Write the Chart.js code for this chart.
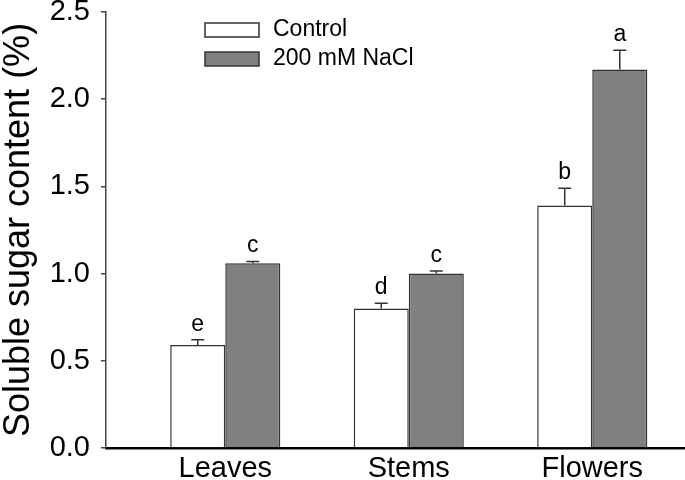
<!DOCTYPE html>
<html><head><meta charset="utf-8">
<script src="https://cdn.jsdelivr.net/npm/chart.js@4.4.0/dist/chart.umd.min.js"></script>
<style>html,body{margin:0;padding:0;background:#fff}#wrap{width:685px;height:480px}</style>
</head><body><div id="wrap"><canvas id="c" width="685" height="480"></canvas></div>
<script>
const categories = ['Leaves', 'Stems', 'Flowers'];
const seriesNames = ['Control', '200 mM NaCl'];
const controlMeans = [0.59, 0.80, 1.39];
const controlErrors = [0.03, 0.03, 0.10];
const naclMeans = [1.06, 1.00, 2.17];
const naclErrors = [0.01, 0.015, 0.11];
const controlLetters = ['e', 'd', 'b'];
const naclLetters = ['c', 'c', 'a'];
const yTicks = [0, 0.5, 1.0, 1.5, 2.0, 2.5];
const yTitle = 'Soluble sugar content (%)';

const FONT = "'Liberation Sans', Arial, sans-serif";
const toPoints = arr => arr.map((v, i) => ({ x: i + 1, y: v }));

const errorPlugin = {
  id: 'errorLetters',
  afterDatasetsDraw(chart) {
    const ctx = chart.ctx;
    const yScale = chart.scales.y;
    chart.data.datasets.forEach((ds, di) => {
      const meta = chart.getDatasetMeta(di);
      meta.data.forEach((el, i) => {
        const mean = ds.data[i].y;
        const err = ds.errors[i];
        const yTop = yScale.getPixelForValue(mean + err);
        ctx.save();
        ctx.strokeStyle = '#333';
        ctx.lineWidth = 1.5;
        ctx.beginPath();
        ctx.moveTo(el.x, el.y);
        ctx.lineTo(el.x, yTop);
        ctx.moveTo(el.x - 6.5, yTop);
        ctx.lineTo(el.x + 6.5, yTop);
        ctx.stroke();
        ctx.fillStyle = '#000';
        ctx.font = '23px ' + FONT;
        ctx.textAlign = 'center';
        ctx.textBaseline = 'alphabetic';
        ctx.fillText(ds.letters[i], el.x, yTop - 9);
        ctx.restore();
      });
    });
  },
  afterDraw(chart) {
    const ctx = chart.ctx;
    ctx.save();
    chart.data.datasets.forEach((ds, di) => {
      const y = 23 + di * 29;
      ctx.fillStyle = ds.backgroundColor;
      ctx.fillRect(205, y, 54, 14);
      ctx.strokeStyle = '#333';
      ctx.lineWidth = 1.5;
      ctx.strokeRect(205, y, 54, 14);
      ctx.fillStyle = '#000';
      ctx.font = '23px ' + FONT;
      ctx.textAlign = 'left';
      ctx.textBaseline = 'middle';
      ctx.fillText(ds.label, 273, y + 7);
    });
    ctx.restore();
  }
};

new Chart(document.getElementById('c'), {
  type: 'bar',
  data: {
    datasets: [
      { label: seriesNames[0], data: toPoints(controlMeans), errors: controlErrors, letters: controlLetters,
        backgroundColor: '#ffffff', borderColor: '#333', borderWidth: 1.5 },
      { label: seriesNames[1], data: toPoints(naclMeans), errors: naclErrors, letters: naclLetters,
        backgroundColor: '#808080', borderColor: '#333', borderWidth: 1.5 }
    ]
  },
  options: {
    responsive: false,
    animation: false,
    devicePixelRatio: 1,
    layout: { padding: { top: 12, right: 1, bottom: 0, left: 0 } },
    categoryPercentage: 0.6,
    barPercentage: 1.0,
    plugins: { legend: { display: false }, tooltip: { enabled: false } },
    scales: {
      x: {
        type: 'linear', min: 0.35, max: 3.5, offset: false,
        afterBuildTicks: s => { s.ticks = categories.map((c, i) => ({ value: i + 1 })); },
        afterFit: s => { s.height = 32; s.paddingLeft = 0; s.paddingRight = 0; },
        grid: { display: false },
        border: { display: true, color: '#000', width: 2.5 },
        ticks: { color: '#000', font: { family: FONT, size: 29 }, padding: -4,
          callback: v => categories[Math.round(v) - 1] }
      },
      y: {
        type: 'linear', min: 0, max: 2.5,
        afterBuildTicks: s => { s.ticks = yTicks.map(v => ({ value: v })); },
        afterFit: s => { s.width = 106; s.paddingTop = 0; s.paddingBottom = 0; },
        grid: { drawOnChartArea: false, drawTicks: true, tickLength: 5, color: '#444', lineWidth: 1.5 },
        border: { display: true, color: '#444', width: 1.5 },
        ticks: { color: '#000', font: { family: FONT, size: 29 }, padding: 11,
          callback: v => Number(v).toFixed(1) },
        title: { display: true, text: yTitle, color: '#000', font: { family: FONT, size: 36, lineHeight: 1.0 },
          padding: { top: 1, bottom: 0 } }
      }
    }
  },
  plugins: [errorPlugin]
});
</script>
</body></html>
